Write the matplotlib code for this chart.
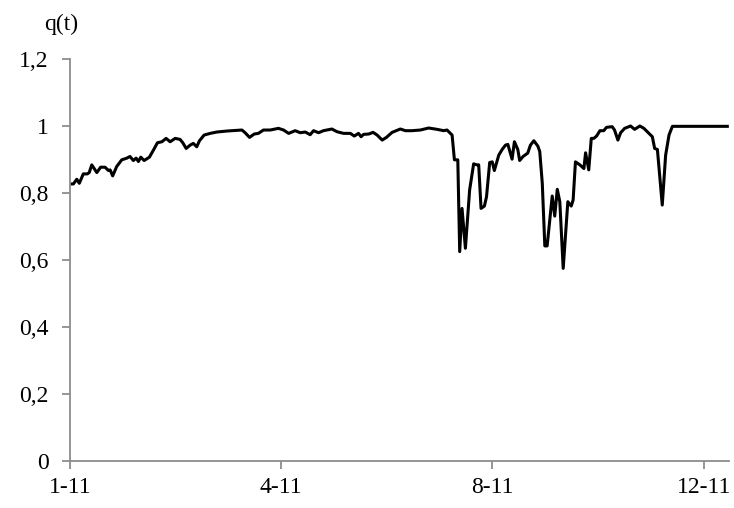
import matplotlib.pyplot as plt

# values (x = position on the category axis, ticks every 100)
t = [0, 1.6, 3.2, 4.4, 6.3, 8.2, 9.1, 10.3, 12.7, 14.5, 16.6, 18.2, 19.0, 20.2, 22.1,
     24.5, 26.9, 28.4, 30.0, 31.3, 32.4, 33.5, 35.1, 37.6, 39.5, 41.4, 43.5, 45.5, 47.4,
     49.8, 52.1, 53.4, 55.0, 56.9, 58.4, 60.0, 61.3, 63.5, 66.4, 69.5, 74.3, 81.4, 82.9,
     85.0, 87.2, 89.2, 91.6, 94.8, 98.7, 101.1, 103.5, 106.6, 109.0, 111.4, 113.7, 115.3,
     117.7, 120.0, 124.0, 126.4, 129.5, 132.7, 134.6, 136.6, 137.8, 139.0, 141.4, 143.5,
     145.4, 147.8, 149.8, 152.5, 156.4, 158.8, 161.9, 165.9, 169.8, 173.8, 176.9, 178.5,
     180.9, 182.0, 183.6, 184.5, 185.6, 187.2, 189.2, 191.1, 192.7, 193.5, 194.6, 196.2,
     197.2, 198.7, 199.9, 200.9, 203.0, 204.6, 206.2, 207.3, 209.3, 210.4, 212.0, 212.9,
     214.5, 216.7, 218.0, 219.6, 221.5, 222.4, 223.6, 224.8, 225.9, 228.3, 229.5, 230.7,
     231.9, 233.5, 235.7, 237.3, 238.2, 239.3, 241.4, 243.3, 244.1, 245.6, 246.8, 248.0,
     249.3, 250.9, 252.7, 254.0, 256.7, 257.8, 259.4, 260.7, 262.6, 265.4, 267.3, 269.8,
     271.7, 274.1, 275.7, 276.8, 278.1, 280.4, 282.0, 283.6, 285.2, 311.2]
q = [0.827, 0.827, 0.841, 0.829, 0.857, 0.857, 0.861, 0.884, 0.861, 0.877, 0.877, 0.867,
     0.869, 0.851, 0.879, 0.899, 0.904, 0.909, 0.897, 0.904, 0.894, 0.907, 0.897, 0.907,
     0.928, 0.950, 0.953, 0.963, 0.953, 0.963, 0.960, 0.950, 0.933, 0.943, 0.948, 0.938,
     0.956, 0.973, 0.978, 0.982, 0.985, 0.988, 0.980, 0.966, 0.976, 0.978, 0.988, 0.988,
     0.993, 0.988, 0.978, 0.986, 0.980, 0.982, 0.974, 0.986, 0.980, 0.986, 0.991, 0.983,
     0.978, 0.978, 0.970, 0.978, 0.968, 0.975, 0.976, 0.981, 0.973, 0.958, 0.966, 0.981,
     0.991, 0.986, 0.986, 0.988, 0.994, 0.990, 0.986, 0.988, 0.973, 0.899, 0.899, 0.625,
     0.754, 0.635, 0.809, 0.887, 0.884, 0.884, 0.754, 0.761, 0.789, 0.891, 0.893, 0.867,
     0.913, 0.930, 0.943, 0.945, 0.901, 0.953, 0.930, 0.897, 0.909, 0.919, 0.943, 0.956,
     0.940, 0.924, 0.829, 0.642, 0.642, 0.791, 0.731, 0.811, 0.774, 0.575, 0.774, 0.761,
     0.779, 0.893, 0.884, 0.873, 0.920, 0.869, 0.963, 0.963, 0.970, 0.986, 0.986, 0.996,
     0.998, 0.988, 0.958, 0.980, 0.993, 1.000, 0.990, 1.000, 0.993, 0.978, 0.968, 0.933,
     0.930, 0.764, 0.913, 0.973, 0.999, 0.999]

tick_pos = [0, 100, 200, 300]
tick_labels = ['1-11', '4-11', '8-11', '12-11']
y_ticks = [0, 0.2, 0.4, 0.6, 0.8, 1.0, 1.2]
y_labels = ['0', '0,2', '0,4', '0,6', '0,8', '1', '1,2']

plt.rcParams['font.family'] = ['Liberation Serif', 'DejaVu Serif']
plt.rcParams['font.size'] = 17

fig = plt.figure(figsize=(7.34, 5.08), dpi=100)
ax = fig.add_axes([70 / 734, 47 / 508, 659 / 734, 402 / 508])

ax.plot(t, q, color='black', linewidth=2.2, solid_joinstyle='round')

ax.set_xlim(0, 312)
ax.set_ylim(0, 1.2)
ax.set_xticks(tick_pos)
ax.set_xticklabels(tick_labels)
ax.set_yticks(y_ticks)
ax.set_yticklabels(y_labels)

gray = '#8c8c8c'
for s in ['top', 'right']:
    ax.spines[s].set_visible(False)
for s in ['left', 'bottom']:
    ax.spines[s].set_color(gray)
    ax.spines[s].set_linewidth(1.3)
ax.tick_params(axis='both', colors=gray, labelcolor='black', length=5.5, width=1.3)
ax.tick_params(axis='x', pad=6)
ax.tick_params(axis='y', pad=10)

fig.text(61 / 734, 1 - 24 / 508, 'q(t)', ha='center', va='center', fontsize=17)

fig.savefig('out.png', dpi=100)
